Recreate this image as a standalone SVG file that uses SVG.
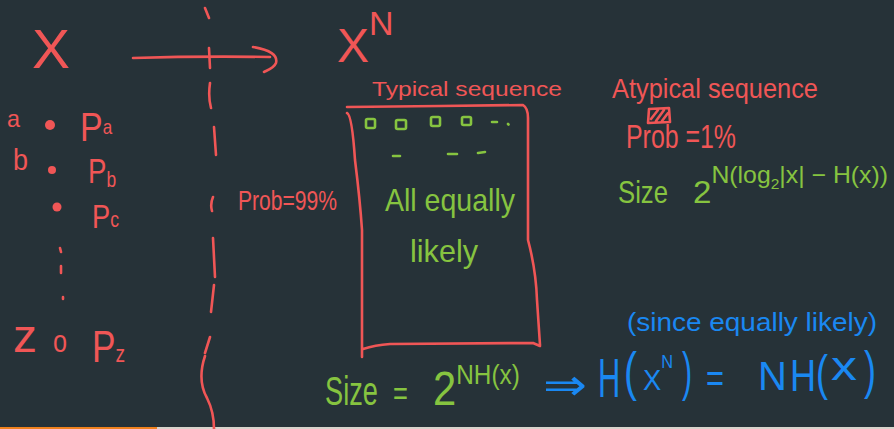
<svg xmlns="http://www.w3.org/2000/svg" width="894" height="429" viewBox="0 0 894 429">
<style>
.t{font-family:"Liberation Sans",Arial,sans-serif;}
.r{fill:#f05656;}
.g{fill:#86c440;}
.b{fill:#1a88f2;}
.sr{stroke:#f05656;fill:none;stroke-width:2.6;stroke-linecap:round;stroke-linejoin:round;}
.sg{stroke:#86c440;fill:none;stroke-width:2.6;stroke-linecap:round;stroke-linejoin:round;}
</style>
<rect x="0" y="0" width="894" height="429" fill="#263238"/>
<rect x="0" y="427" width="157" height="2" fill="#f0821e"/>
<rect x="157" y="427" width="737" height="2" fill="#d8d4cc"/>

<g id="alphabet" class="t r">
  <text x="32" y="68" font-size="55" textLength="38" lengthAdjust="spacingAndGlyphs">X</text>
  <text x="7" y="127" font-size="24" textLength="13" lengthAdjust="spacingAndGlyphs">a</text>
  <circle cx="50" cy="125" r="5"/>
  <text transform="translate(80,141) scale(0.85,1)" font-size="40">P<tspan font-size="20" dy="-7">a</tspan></text>
  <text x="13" y="170" font-size="30" textLength="15" lengthAdjust="spacingAndGlyphs">b</text>
  <circle cx="52" cy="170" r="4"/>
  <text transform="translate(88,183) scale(0.79,1)" font-size="35">P<tspan font-size="22" dy="4">b</tspan></text>
  <circle cx="57" cy="207" r="4.5"/>
  <text transform="translate(92,228) scale(0.8,1)" font-size="34">P<tspan font-size="22" dy="-1">c</tspan></text>
  <path class="sr" d="M60,248 L61,252 M61,266 L61,273 M63,297 L63,299"/>
  <text x="13" y="352" font-size="46" textLength="24" lengthAdjust="spacingAndGlyphs">z</text>
  <text x="53" y="352" font-size="32" textLength="14" lengthAdjust="spacingAndGlyphs">o</text>
  <text transform="translate(92,362) scale(0.8,1)" font-size="44">P<tspan font-size="24">z</tspan></text>
</g>

<g id="connectors">
  <path id="arrow" class="sr" d="M133,58 Q200,56 270,57 M253,47 C270,50 278,55 276,63 C274,68 268,70 264,72"/>
  <path id="divider" class="sr" d="M205,8 L209,18 M209,48 L210,68 M210,83 Q208,97 211,108 M214,127 L216,155 M213,197 Q210,204 212,211 M213,238 L215,277 M214,285 L211,312 M210,337 L205,353 M205,356 Q197,380 207,398 Q214,412 214,429"/>
</g>

<g id="xn" class="t r">
  <text x="337" y="62" font-size="48">X<tspan font-size="34" dy="-27">N</tspan></text>
</g>

<g id="prob99" class="t r">
  <text x="238" y="210" font-size="28" textLength="99" lengthAdjust="spacingAndGlyphs">Prob=99%</text>
</g>

<g id="typical">
  <text class="t r" x="372" y="96" font-size="21" textLength="190" lengthAdjust="spacingAndGlyphs">Typical sequence</text>
  <path class="sr" d="M347,107 L440,106 L523,105 Q528,108 528,118 L528,240 Q536,270 537,300 L540,345 M363,349 Q375,345 390,344 L533,343 L540,346 M347,113 Q352,115 355,160 Q360,200 362,230 L362,357"/>
  <g class="sg">
    <rect x="366" y="119" width="9" height="9" rx="1.5"/>
    <rect x="396" y="120" width="10" height="9" rx="1.5"/>
    <rect x="431" y="117" width="9" height="9" rx="1.5"/>
    <rect x="462" y="117" width="9" height="8" rx="1.5"/>
    <path d="M492,122 L497,122 M508,124 L508.5,124.5 M393,156 L400,156 M448,154 L457,154 M478,153 L485,152"/>
  </g>
  <text class="t g" x="385" y="211" font-size="32" textLength="130" lengthAdjust="spacingAndGlyphs">All equally</text>
  <text class="t g" x="410" y="262" font-size="32" textLength="68" lengthAdjust="spacingAndGlyphs">likely</text>
</g>

<g id="atypical">
  <text class="t r" x="612" y="98" font-size="28" textLength="206" lengthAdjust="spacingAndGlyphs">Atypical sequence</text>
  <path class="sr" stroke-width="2" d="M649,109 L669,108 L670,122 L648,123 Z M651,119 L658,110 M656,121 L664,110 M662,121 L668,113"/>
  <text class="t r" x="626" y="148" font-size="34" textLength="110" lengthAdjust="spacingAndGlyphs">Prob =1%</text>
  <text class="t g" x="618" y="203" font-size="32" textLength="50" lengthAdjust="spacingAndGlyphs">Size</text>
  <text class="t g" x="693" y="203" font-size="32" textLength="195" lengthAdjust="spacingAndGlyphs">2<tspan font-size="24" dy="-20">N(log</tspan><tspan font-size="15" dy="6">2</tspan><tspan font-size="24" dy="-6">|x| − H(x))</tspan></text>
</g>

<g id="size-typical" class="t g">
  <text transform="translate(325,405) scale(0.68,1)" font-size="40">Size</text>
  <text transform="translate(393,405) scale(0.75,1)" font-size="34">=</text>
  <text transform="translate(433,405) scale(0.87,1)" font-size="48">2<tspan font-size="28" dy="-21">NH(x)</tspan></text>
</g>

<g id="entropy" class="t b">
  <text x="627" y="331" font-size="26" textLength="250" lengthAdjust="spacingAndGlyphs">(since equally likely)</text>
  <text x="543" y="400" font-size="44" textLength="44" lengthAdjust="spacingAndGlyphs" style="font-family:'DejaVu Sans',sans-serif">⇒</text>
  <text transform="translate(598,397) scale(0.55,1)" font-size="56">H</text>
  <text transform="translate(624,390) scale(0.72,1)" font-size="54">(</text>
  <text transform="translate(643,390) scale(0.91,1)" font-size="30">X<tspan font-size="18" dy="-22">N</tspan></text>
  <text transform="translate(682,390) scale(0.56,1)" font-size="54">)</text>
  <text transform="translate(706,392) scale(0.77,1)" font-size="40">=</text>
  <text x="758" y="390" font-size="40">N</text>
  <text transform="translate(790,391) scale(0.82,1)" font-size="44">H</text>
  <text transform="translate(816,390) scale(0.72,1)" font-size="50">(</text>
  <text transform="translate(831,380) scale(1.3,1)" font-size="40">x</text>
  <text transform="translate(864,388) scale(0.69,1)" font-size="52">)</text>
</g>
</svg>
